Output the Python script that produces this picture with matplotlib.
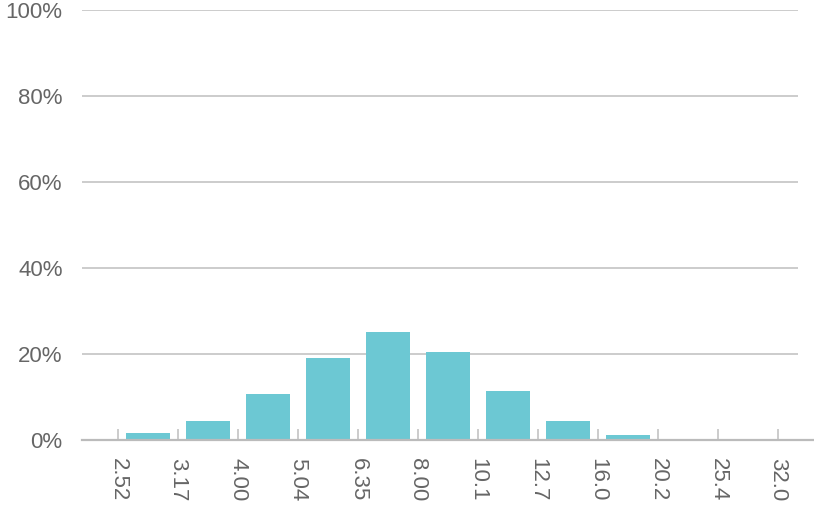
import matplotlib
matplotlib.use("Agg")
import matplotlib.pyplot as plt
from matplotlib.ticker import FuncFormatter

# bin edges (tick labels) and share of values per bin, in percent
edges = ["2.52", "3.17", "4.00", "5.04", "6.35", "8.00", "10.1", "12.7", "16.0", "20.2", "25.4", "32.0"]
shares = [1.7, 4.5, 10.6, 19.0, 25.1, 20.4, 11.5, 4.5, 1.2, 0.3, 0.0]

bar_color = "#6cc8d3"
grid_color = "#c8c8c8"
text_color = "#666666"

plt.rcParams["font.family"] = ["Liberation Sans", "DejaVu Sans"]

fig = plt.figure(figsize=(8.14, 5.08), dpi=100)
W, H = 814, 508
ax = fig.add_axes([82 / W, 1 - 440 / H, (798 - 82) / W, (440 - 10) / H])

centers = [i + 0.5 for i in range(len(shares))]
ax.bar(centers, shares, width=0.72, color=bar_color, zorder=3)

ax.set_xlim(-0.6, (798 - 118) / 60)
ax.set_ylim(0, 100)

ax.set_yticks(range(0, 101, 20))
ax.yaxis.set_major_formatter(FuncFormatter(lambda v, p: f"{v:.0f}%"))
ax.yaxis.grid(True, color=grid_color, linewidth=1.3, zorder=0)
ax.tick_params(axis="y", length=0, pad=14, labelsize=16, labelcolor=text_color)

ax.set_xticks(range(len(edges)))
ax.set_xticklabels(edges, rotation=-90)
ax.tick_params(axis="x", direction="in", length=8, width=1.3, color=grid_color,
               pad=13, labelsize=16, labelcolor=text_color)

for s in ax.spines.values():
    s.set_visible(False)

# baseline runs a bit past the gridlines on the right
ax.plot([0, (814 - 82) / (798 - 82)], [0, 0], transform=ax.get_yaxis_transform(),
        color="#bbbbbb", linewidth=1.6, clip_on=False, zorder=4)

fig.savefig("out.png", dpi=100)
